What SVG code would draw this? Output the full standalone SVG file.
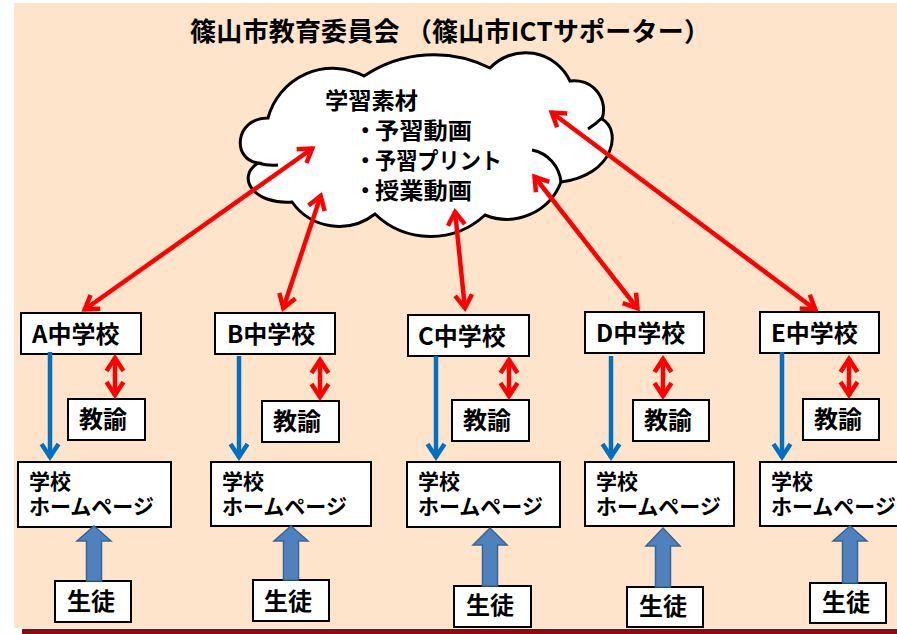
<svg xmlns="http://www.w3.org/2000/svg" width="897" height="634" viewBox="0 0 897 634">
<style>
.box{fill:#fff;stroke:#000;stroke-width:2}
.t{font-family:"Noto Sans CJK JP","Noto Sans",sans-serif;font-weight:bold;fill:#000}
.lab{font-size:24px}
.hp{font-size:21px}
.cl{font-size:22.5px}
.red{stroke:#FF0000;stroke-width:4.5;fill:none}
.blue{stroke:#0070C0;stroke-width:4.5;fill:none}
.blk{fill:#4F81BD;stroke:#3A6496;stroke-width:1.5}
</style>
<defs>
<marker id="ar" viewBox="-20 -14 28 28" markerWidth="28" markerHeight="28" refX="1" refY="0" orient="auto-start-reverse" markerUnits="userSpaceOnUse" overflow="visible">
<path d="M-13,-8.5 L0,0 L-13,8.5" fill="none" stroke="#FF0000" stroke-width="4.5"/>
</marker>
<marker id="ab" viewBox="-20 -14 28 28" markerWidth="28" markerHeight="28" refX="1" refY="0" orient="auto" markerUnits="userSpaceOnUse" overflow="visible">
<path d="M-13,-8.5 L0,0 L-13,8.5" fill="none" stroke="#0070C0" stroke-width="4.5"/>
</marker>
</defs>
<rect x="14" y="3" width="883" height="625" fill="#FDE4CB"/>
<rect x="22" y="629" width="875" height="5" fill="#8E0B0B"/>
<text class="t" x="190" y="41" font-size="26" textLength="520" lengthAdjust="spacing">篠山市教育委員会 （篠山市ICTサポーター）</text>

<g id="cloud">
<path d="M268,118 A67,67 0 0 1 364,76 A125,125 0 0 1 490,68 A49,49 0 0 1 570,81 A29,29 0 0 1 602,119 C622,130 615,175 561,182 A58,58 0 0 1 485,215 A80,80 0 0 1 375,214 A58,58 0 0 1 292,202 C255,205 235,178 258,163 C232,160 234,118 268,118 Z" fill="#fff" stroke="#000" stroke-width="3"/>
<path d="M532,150 A36,36 0 0 1 561,182 M588,129 Q596,124 603,117 M258,163 Q268,166 278,165" fill="none" stroke="#000" stroke-width="3"/>
<text class="t cl" x="325" y="108.5" textLength="93" lengthAdjust="spacingAndGlyphs">学習素材</text>
<text class="t cl" y="139"><tspan x="354">・</tspan><tspan x="375" textLength="97" lengthAdjust="spacingAndGlyphs">予習動画</tspan></text>
<text class="t cl" y="169"><tspan x="354">・</tspan><tspan x="375" textLength="127" lengthAdjust="spacingAndGlyphs">予習プリント</tspan></text>
<text class="t cl" y="199"><tspan x="354">・</tspan><tspan x="375" textLength="97" lengthAdjust="spacingAndGlyphs">授業動画</tspan></text>
</g>

<g id="schoolA"><rect class="box" x="21" y="313" width="120" height="41"/><text class="t lab" x="32" y="343">A中学校</text></g>
<g id="teacherA"><rect class="box" x="68" y="399" width="77" height="41"/><text class="t lab" x="79" y="428">教諭</text></g>
<g id="hpA"><rect class="box" x="18" y="462" width="153" height="65"/><text class="t hp"><tspan x="29" y="488.5">学校</tspan><tspan x="29" y="513.5">ホームページ</tspan></text></g>
<g id="studentA"><rect class="box" x="55" y="581" width="76" height="41"/><text class="t lab" x="67" y="610">生徒</text></g>

<g id="schoolB"><rect class="box" x="215" y="313" width="120" height="41"/><text class="t lab" x="227" y="343">B中学校</text></g>
<g id="teacherB"><rect class="box" x="262" y="401" width="77" height="41"/><text class="t lab" x="273" y="430">教諭</text></g>
<g id="hpB"><rect class="box" x="211" y="462" width="160" height="64"/><text class="t hp"><tspan x="222" y="488.5">学校</tspan><tspan x="222" y="513.5">ホームページ</tspan></text></g>
<g id="studentB"><rect class="box" x="253" y="580" width="76" height="41"/><text class="t lab" x="264" y="610">生徒</text></g>

<g id="schoolC"><rect class="box" x="408" y="315" width="121" height="41"/><text class="t lab" x="418" y="345">C中学校</text></g>
<g id="teacherC"><rect class="box" x="452" y="400" width="77" height="41"/><text class="t lab" x="463" y="429">教諭</text></g>
<g id="hpC"><rect class="box" x="407" y="462" width="153" height="65"/><text class="t hp"><tspan x="418" y="488.5">学校</tspan><tspan x="418" y="513.5">ホームページ</tspan></text></g>
<g id="studentC"><rect class="box" x="454" y="586" width="77" height="41"/><text class="t lab" x="466" y="614">生徒</text></g>

<g id="schoolD"><rect class="box" x="585" y="312" width="119" height="41"/><text class="t lab" x="596" y="342">D中学校</text></g>
<g id="teacherD"><rect class="box" x="633" y="400" width="76" height="41"/><text class="t lab" x="644" y="429">教諭</text></g>
<g id="hpD"><rect class="box" x="585" y="462" width="149" height="64"/><text class="t hp"><tspan x="596" y="488.5">学校</tspan><tspan x="596" y="513.5">ホームページ</tspan></text></g>
<g id="studentD"><rect class="box" x="627" y="587" width="76" height="40"/><text class="t lab" x="639" y="615">生徒</text></g>

<g id="schoolE"><rect class="box" x="760" y="312" width="119" height="41"/><text class="t lab" x="771" y="342">E中学校</text></g>
<g id="teacherE"><rect class="box" x="803" y="399" width="76" height="41"/><text class="t lab" x="814" y="428">教諭</text></g>
<g id="hpE"><rect class="box" x="760" y="462" width="150" height="64"/><text class="t hp"><tspan x="771" y="488.5">学校</tspan><tspan x="771" y="513.5">ホームページ</tspan></text></g>
<g id="studentE"><rect class="box" x="810" y="583" width="76" height="40"/><text class="t lab" x="822" y="611">生徒</text></g>

<g id="connectors">
<line class="red" x1="313" y1="148" x2="84" y2="310" marker-start="url(#ar)" marker-end="url(#ar)"/>
<line class="red" x1="321" y1="195" x2="283" y2="309" marker-start="url(#ar)" marker-end="url(#ar)"/>
<line class="red" x1="455" y1="211" x2="465" y2="309" marker-start="url(#ar)" marker-end="url(#ar)"/>
<line class="red" x1="534" y1="176" x2="638" y2="309" marker-start="url(#ar)" marker-end="url(#ar)"/>
<line class="red" x1="551" y1="112" x2="816" y2="310" marker-start="url(#ar)" marker-end="url(#ar)"/>

<line class="red" x1="115" y1="357" x2="115" y2="396" marker-start="url(#ar)" marker-end="url(#ar)"/>
<line class="red" x1="320" y1="359" x2="320" y2="398" marker-start="url(#ar)" marker-end="url(#ar)"/>
<line class="red" x1="509" y1="359" x2="509" y2="397" marker-start="url(#ar)" marker-end="url(#ar)"/>
<line class="red" x1="663" y1="358" x2="663" y2="397" marker-start="url(#ar)" marker-end="url(#ar)"/>
<line class="red" x1="849" y1="358" x2="849" y2="396" marker-start="url(#ar)" marker-end="url(#ar)"/>

<line class="blue" x1="50" y1="352" x2="50" y2="458" marker-end="url(#ab)"/>
<line class="blue" x1="239" y1="356" x2="239" y2="458" marker-end="url(#ab)"/>
<line class="blue" x1="436" y1="356" x2="436" y2="458" marker-end="url(#ab)"/>
<line class="blue" x1="611" y1="356" x2="611" y2="458" marker-end="url(#ab)"/>
<line class="blue" x1="782" y1="352" x2="782" y2="458" marker-end="url(#ab)"/>

<polygon class="blk" points="94,526 111,541 101.5,541 101.5,581 86.5,581 86.5,541 77,541"/>
<polygon class="blk" points="291,526 308,541 298.5,541 298.5,580 283.5,580 283.5,541 274,541"/>
<polygon class="blk" points="490,528 507,545 497.5,545 497.5,586 482.5,586 482.5,545 473,545"/>
<polygon class="blk" points="663,528 680,546 670.5,546 670.5,587 655.5,587 655.5,546 646,546"/>
<polygon class="blk" points="850,526 867,541 857.5,541 857.5,583 842.5,583 842.5,541 833,541"/>
</g>
</svg>
